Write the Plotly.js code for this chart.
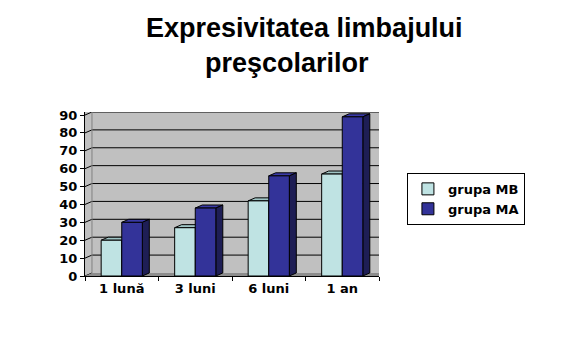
<!DOCTYPE html>
<html>
<head>
<meta charset="utf-8">
<script src="https://cdn.plot.ly/plotly-3.0.1.min.js"></script>
<style>html,body{margin:0;padding:0;background:#fff;}#chart{width:564px;height:360px;}</style>
</head>
<body>
<div id="chart"></div>
<script>
var categories = ['1 lună', '3 luni', '6 luni', '1 an'];
var seriesNames = ['grupa MB', 'grupa MA'];
var grupaMB = [20, 27, 42, 57];
var grupaMA = [30, 38, 56, 89];
var yTicks = [0, 10, 20, 30, 40, 50, 60, 70, 80, 90];
var titleLines = ['Expresivitatea limbajului', 'preşcolarilor'];

var font = 'Liberation Sans, Arial, sans-serif';
var wideFont = 'DejaVu Sans, Verdana, sans-serif';
var colors = ['#bfe3e3', '#333399'];
var topColors = ['#9fc4c4', '#3a3aa6'];
var sideColors = ['#7fa3a3', '#1e1e55'];
var bargap = 0.44;
var barW = (1 - bargap) / 2;
var dx = 0.095, dy = 1.7; // 3D depth in axis units
var xMin = -0.5, xMax = categories.length - 0.5;

var traces = [
  {type: 'bar', name: seriesNames[0], x: categories, y: grupaMB,
   marker: {color: colors[0], line: {color: '#000', width: 1}}},
  {type: 'bar', name: seriesNames[1], x: categories, y: grupaMA,
   marker: {color: colors[1], line: {color: '#000', width: 1}}}
];

var shapes = [];
// back-wall gridlines and side-wall diagonals, from the tick values
yTicks.forEach(function (t) {
  if (t > 0) {
    shapes.push({type: 'line', xref: 'x', yref: 'y', layer: 'below',
      x0: xMin + dx, x1: xMax + 1, y0: t + dy, y1: t + dy, line: {color: '#000', width: 1}});
  }
  shapes.push({type: 'line', xref: 'x', yref: 'y', layer: 'below',
    x0: xMin, x1: xMin + dx, y0: t, y1: t + dy, line: {color: '#000', width: 1}});
});
// side-wall back edge
shapes.push({type: 'line', xref: 'x', yref: 'y', layer: 'below',
  x0: xMin + dx, x1: xMin + dx, y0: dy, y1: yTicks[yTicks.length - 1] + dy, line: {color: '#808080', width: 1}});
// floor
shapes.push({type: 'path', xref: 'x', yref: 'y', layer: 'below',
  path: 'M ' + xMin + ',0 L ' + xMax + ',0 L ' + (xMax + dx) + ',' + dy + ' L ' + (xMin + dx) + ',' + dy + ' Z',
  fillcolor: '#8c8c8c', line: {width: 0}});
// 3D bar faces derived from the data values
[grupaMB, grupaMA].forEach(function (vals, s) {
  vals.forEach(function (v, i) {
    var x0 = i - barW + s * barW, x1 = x0 + barW;
    shapes.push({type: 'path', xref: 'x', yref: 'y', layer: 'below',
      path: 'M ' + x0 + ',' + v + ' L ' + x1 + ',' + v + ' L ' + (x1 + dx) + ',' + (v + dy) + ' L ' + (x0 + dx) + ',' + (v + dy) + ' Z',
      fillcolor: topColors[s], line: {color: '#000', width: 1}});
    shapes.push({type: 'path', xref: 'x', yref: 'y', layer: 'below',
      path: 'M ' + x1 + ',0 L ' + x1 + ',' + v + ' L ' + (x1 + dx) + ',' + (v + dy) + ' L ' + (x1 + dx) + ',' + dy + ' Z',
      fillcolor: sideColors[s], line: {color: '#000', width: 1}});
  });
});

var layout = {
  width: 564, height: 360,
  margin: {l: 85, r: 185, t: 112, b: 84},
  paper_bgcolor: '#ffffff', plot_bgcolor: '#c0c0c0',
  barmode: 'group', bargap: bargap, bargroupgap: 0,
  showlegend: true,
  legend: {x: 1.095, xanchor: 'left', y: 0.47, yanchor: 'middle',
           font: {family: wideFont, size: 13, color: '#000', weight: 'bold'},
           bordercolor: '#000', borderwidth: 1, bgcolor: '#fff', tracegroupgap: 0, itemwidth: 30},
  xaxis: {type: 'category', range: [xMin, xMax], showline: true, linecolor: '#000', linewidth: 1,
          ticks: 'outside', tickson: 'boundaries', ticklen: 4, tickcolor: '#000',
          tickfont: {family: wideFont, size: 13, color: '#000', weight: 'bold'}, showgrid: false},
  yaxis: {range: [0, yTicks[yTicks.length - 1] + dy], tickvals: yTicks, ticktext: yTicks.map(String), showline: true,
          linecolor: '#000', linewidth: 1, ticks: 'outside', ticklen: 4, tickcolor: '#000',
          showgrid: false, zeroline: false,
          tickfont: {family: wideFont, size: 13, color: '#000', weight: 'bold'}},
  shapes: shapes,
  annotations: [
    {text: titleLines[0], xref: 'paper', yref: 'paper', x: 0.745, xanchor: 'center', y: 1, yanchor: 'top', yshift: 101, showarrow: false,
     font: {family: font, size: 27, color: '#000', weight: 'bold'}},
    {text: titleLines[1], xref: 'paper', yref: 'paper', x: 0.687, xanchor: 'center', y: 1, yanchor: 'top', yshift: 66, showarrow: false,
     font: {family: font, size: 27, color: '#000', weight: 'bold'}}
  ]
};
Plotly.newPlot('chart', traces, layout, {staticPlot: true, displayModeBar: false});
</script>
</body>
</html>
